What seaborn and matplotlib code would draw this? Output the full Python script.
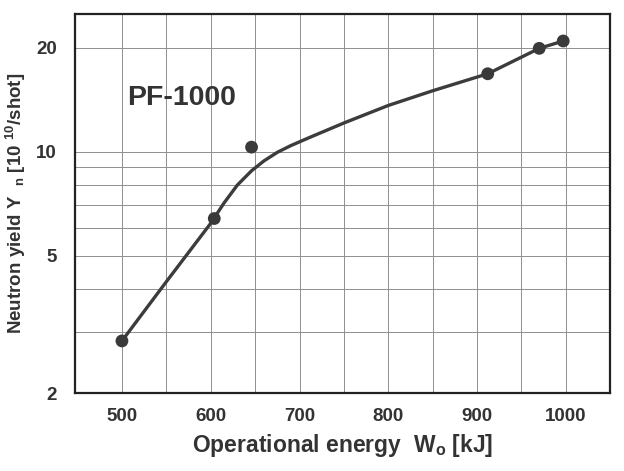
import numpy as np
import pandas as pd
import matplotlib
matplotlib.use("Agg")
import matplotlib.pyplot as plt
import matplotlib.ticker as mticker
import seaborn as sns

energy_kj = [500, 604, 646, 912, 970, 997]
yield_1e10 = [2.83, 6.4, 10.3, 16.8, 19.9, 20.9]

# hand-drawn trend line
curve_kj = [500, 550, 600, 615, 630, 646, 660, 675, 690, 710, 750, 800,
            850, 912, 970, 997]
curve_yield = [2.83, 4.2, 6.2, 7.1, 8.0, 8.8, 9.4, 9.95, 10.4, 10.95, 12.1,
               13.6, 15.0, 16.8, 19.9, 20.9]

x_ticks = [500, 600, 700, 800, 900, 1000]
y_ticks = [2, 5, 10, 20]

points = pd.DataFrame({"energy": energy_kj, "yield": yield_1e10})
curve = pd.DataFrame({"energy": curve_kj, "yield": curve_yield})

sns.set_style("white")
plt.rcParams["font.family"] = ["Liberation Sans", "DejaVu Sans"]
plt.rcParams["font.weight"] = "bold"
plt.rcParams["axes.labelweight"] = "bold"
plt.rcParams["mathtext.fontset"] = "custom"
plt.rcParams["mathtext.rm"] = "Liberation Sans:bold"
plt.rcParams["mathtext.default"] = "rm"

ink = "#333333"
fig = plt.figure(figsize=(6.24, 4.71), dpi=100)
ax = fig.add_axes([0.120, 0.1656, 0.858, 0.8044])

ax.set_yscale("log")
ax.set_xlim(447, 1050)
ax.set_ylim(2, 25)

# grid
ax.set_xticks(x_ticks)
ax.set_xticks(np.arange(550, 1001, 100), minor=True)
ax.set_yticks(y_ticks)
ax.set_yticks([3, 4, 6, 7, 8, 9], minor=True)
ax.yaxis.set_major_formatter(mticker.FixedFormatter([str(v) for v in y_ticks]))
ax.yaxis.set_minor_formatter(mticker.NullFormatter())
ax.grid(True, which="both", color="#8f8f8f", linewidth=0.7)
ax.set_axisbelow(True)

sns.lineplot(data=curve, x="energy", y="yield", ax=ax, color="#3c3c3c",
             linewidth=2.4, zorder=3)
sns.scatterplot(data=points, x="energy", y="yield", ax=ax, color="#3a3a3a",
                s=85, edgecolor="none", zorder=4)

ax.tick_params(axis="both", which="major", direction="out", length=7,
               width=1.2, color=ink, labelsize=13.5, labelcolor=ink, pad=4)
ax.tick_params(axis="x", which="minor", direction="out", length=4,
               width=1.0, color=ink)
ax.tick_params(axis="y", which="minor", length=0)
ax.tick_params(axis="y", which="major", length=9)

for side in ax.spines.values():
    side.set_color("#222222")
    side.set_linewidth(1.6)

ax.text(506, 14.3, "PF-1000", fontsize=20.5, fontweight="bold", color=ink,
        va="center", ha="left")

ax.set_xlabel(r"Operational energy  W$_{o}$ [kJ]", fontsize=16.5, color=ink,
              fontweight="bold", labelpad=5)
ax.set_ylabel(r"Neutron yield Y  $_{n}$ [10 $^{10}$/shot]", fontsize=13.5,
              color=ink, fontweight="bold", labelpad=6)

fig.savefig("out.png", dpi=100, facecolor="white")
